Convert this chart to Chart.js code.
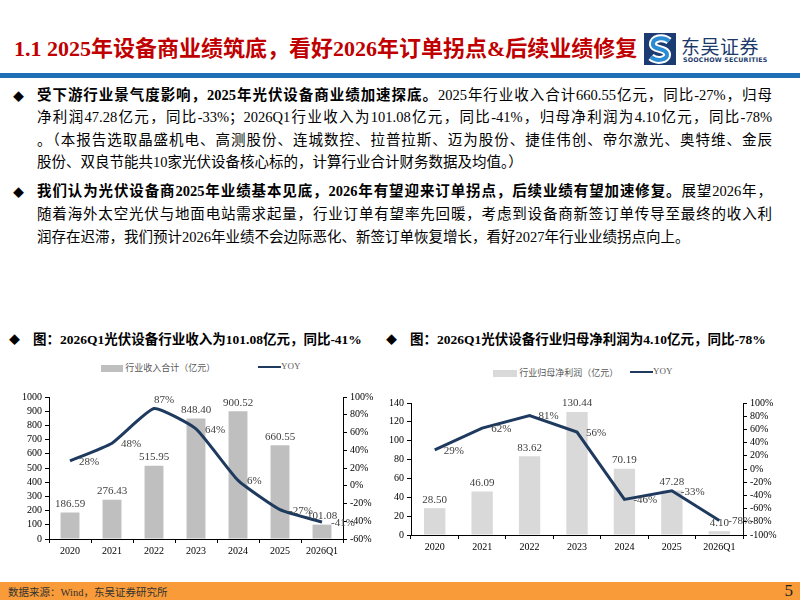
<!DOCTYPE html>
<html lang="zh">
<head>
  <meta charset="UTF-8">
  <title>光伏设备行业业绩</title>
  <script src="https://cdn.jsdelivr.net/npm/chart.js"></script>
  <style>
    html, body { margin: 0; padding: 0; }
    body {
      width: 800px; height: 600px; position: relative; overflow: hidden; background: #fff;
      font-family: "Liberation Serif", "Noto Sans CJK SC", serif; color: #000;
    }
    .abs { position: absolute; }
    #title { left: 14px; top: 30px; font-size: 22px; font-weight: bold; color: #c00000; white-space: nowrap; }
    #blueBar { left: 0; top: 73px; width: 800px; height: 5px; background: #1f6fb6; }
    #footer { left: 0; top: 582px; width: 800px; height: 18px; background: #f89b38; }
    #footer .src { position: absolute; left: 8px; top: 2px; font-size: 10.5px; color: #333; }
    #footer .pg { position: absolute; right: 7px; top: -1px; font-size: 17px; color: #222; }
    .bullet { font-size: 11px; }
    .line { position: absolute; left: 37px; width: 735px; font-size: 14.5px; line-height: 20px;
            text-align: justify; text-align-last: justify; }
    .line.last { text-align-last: left; }
    .ctitle { font-size: 13.5px; font-weight: bold; white-space: nowrap; }
    .legend { font-size: 9px; color: #595959; white-space: nowrap; }
    .swatch { display: inline-block; vertical-align: middle; }
    .box { position: absolute; }
  </style>
</head>
<body>
  <!-- 页眉 -->
  <div id="title" class="abs">1.1 2025年设备商业绩筑底，看好2026年订单拐点&amp;后续业绩修复</div>
  <svg class="abs" style="left:644px;top:33px" width="32" height="32" viewBox="0 0 32 32">
    <rect x="0" y="0" width="32" height="32" fill="#1d3b73"/>
    <path d="M25,8 C19,3 8,5 9,12 C10,17 22,15 23,21 C24,27 13,29 7,24" fill="none" stroke="#fff" stroke-width="8"/>
    <path d="M25,8 C19,3 8,5 9,12 C10,17 22,15 23,21 C24,27 13,29 7,24" fill="none" stroke="#2b8bd3" stroke-width="4"/>
  </svg>
  <div class="abs" style="left:681px;top:32px;font-family:'Noto Sans CJK SC';font-size:19px;letter-spacing:0.5px;color:#1b3a6b;">东吴证券</div>
  <div class="abs" style="left:683px;top:56px;font-family:'DejaVu Sans';font-size:6.3px;font-weight:bold;color:#1b3a6b;letter-spacing:0.2px;">SOOCHOW SECURITIES</div>
  <div id="blueBar" class="abs"></div>

  <!-- 正文 -->
  <div class="abs bullet" style="left:13px;top:88px;">◆</div>
  <div class="line" style="top:85px;"><b>受下游行业景气度影响，2025年光伏设备商业绩加速探底。</b>2025年行业收入合计660.55亿元，同比-27%，归母</div>
  <div class="line" style="top:107px;">净利润47.28亿元，同比-33%；2026Q1行业收入为101.08亿元，同比-41%，归母净利润为4.10亿元，同比-78%</div>
  <div class="line" style="top:130px;">。（本报告选取晶盛机电、高测股份、连城数控、拉普拉斯、迈为股份、捷佳伟创、帝尔激光、奥特维、金辰</div>
  <div class="line last" style="top:152px;">股份、双良节能共10家光伏设备核心标的，计算行业合计财务数据及均值。）</div>
  <div class="abs bullet" style="left:13px;top:184px;">◆</div>
  <div class="line" style="top:181px;"><b>我们认为光伏设备商2025年业绩基本见底，2026年有望迎来订单拐点，后续业绩有望加速修复。</b>展望2026年，</div>
  <div class="line" style="top:204px;">随着海外太空光伏与地面电站需求起量，行业订单有望率先回暖，考虑到设备商新签订单传导至最终的收入利</div>
  <div class="line last" style="top:227px;">润存在迟滞，我们预计2026年业绩不会边际恶化、新签订单恢复增长，看好2027年行业业绩拐点向上。</div>

  <!-- 图表标题 -->
  <div class="abs bullet" style="left:9px;top:331px;">◆</div>
  <div class="abs ctitle" style="left:33px;top:328px;">图：2026Q1光伏设备行业收入为101.08亿元，同比-41%</div>
  <div class="abs bullet" style="left:386px;top:331px;">◆</div>
  <div class="abs ctitle" style="left:410px;top:328px;">图：2026Q1光伏设备行业归母净利润为4.10亿元，同比-78%</div>

  <!-- 图例 -->
  <div class="abs legend" style="left:101px;top:361px;">
    <span class="swatch" style="width:22px;height:7px;background:#bfbfbf;"></span> 行业收入合计（亿元）
  </div>
  <div class="abs legend" style="left:258px;top:361px;">
    <span class="swatch" style="width:23px;height:2.5px;background:#1f3a5f;"></span>YOY
  </div>
  <div class="abs legend" style="left:493px;top:366px;">
    <span class="swatch" style="width:24px;height:7px;background:#d9d9d9;"></span> 行业归母净利润（亿元）
  </div>
  <div class="abs legend" style="left:630px;top:366px;">
    <span class="swatch" style="width:23px;height:2.5px;background:#1f3a5f;"></span>YOY
  </div>

  <div class="box" style="left:0px;top:385px;width:390px;height:174px;"><canvas id="revChart"></canvas></div>
  <div class="box" style="left:385px;top:390px;width:415px;height:165px;"><canvas id="profitChart"></canvas></div>

  <div id="footer" class="abs">
    <span class="src">数据来源：Wind，东吴证券研究所</span>
    <span class="pg">5</span>
  </div>

  <script>
    // 数据
    const years = ['2020', '2021', '2022', '2023', '2024', '2025', '2026Q1'];
    const revenue = [186.59, 276.43, 515.95, 848.40, 900.52, 660.55, 101.08];
    const revenueYoy = [28, 48, 87, 64, 6, -27, -41];
    const profit = [28.50, 46.09, 83.62, 130.44, 70.19, 47.28, 4.10];
    const profitYoy = [29, 62, 81, 56, -46, -33, -78];

    const tickFont = { family: 'Liberation Serif', size: 10 };
    const lineColor = '#1f3a5f';

    // 数据标签：柱子上方写数值，折线点右侧写百分比
    const valueLabels = {
      id: 'valueLabels',
      afterDatasetsDraw(chart, args, opts) {
        const ctx = chart.ctx;
        ctx.save();
        ctx.font = '11px "Liberation Serif"';
        ctx.fillStyle = '#404040';
        chart.data.datasets.forEach((ds, di) => {
          const meta = chart.getDatasetMeta(di);
          meta.data.forEach((el, i) => {
            const v = ds.data[i];
            if (ds.type === 'bar') {
              ctx.textAlign = 'center';
              ctx.textBaseline = 'bottom';
              ctx.fillText(v.toFixed(2), el.x, el.y - 3);
            } else if (i === opts.aboveIndex) {
              ctx.textAlign = 'left';
              ctx.textBaseline = 'bottom';
              ctx.fillText(v + '%', el.x, el.y - 3);
            } else {
              ctx.textAlign = 'left';
              ctx.textBaseline = 'middle';
              ctx.fillText(v + '%', el.x + 9, el.y + 1);
            }
          });
        });
        ctx.restore();
      }
    };

    function makeChart(id, bars, barColor, yoy, leftMax, leftStep, rightMin, tension, leftW, rightW, padTop, aboveIndex) {
      new Chart(document.getElementById(id), {
        data: {
          labels: years,
          datasets: [
            { type: 'line', data: yoy, yAxisID: 'y1', borderColor: lineColor, borderWidth: 3,
              pointRadius: 0, tension: tension, order: 0 },
            { type: 'bar', data: bars, yAxisID: 'y', backgroundColor: barColor,
              barPercentage: 0.45, categoryPercentage: 1, order: 1 }
          ]
        },
        options: {
          responsive: true, maintainAspectRatio: false, animation: false,
          layout: { padding: { top: padTop, left: 0, right: 0, bottom: 0 } },
          plugins: { legend: { display: false }, tooltip: { enabled: false }, valueLabels: { aboveIndex: aboveIndex } },
          scales: {
            x: {
              grid: { offset: true, drawOnChartArea: false, tickLength: 4, color: '#000' },
              border: { color: '#000' },
              ticks: { font: tickFont, color: '#000', padding: 2, maxRotation: 0 },
              afterFit(s) { s.height = 20; }
            },
            y: {
              position: 'left', min: 0, max: leftMax,
              grid: { drawOnChartArea: false, tickLength: 4, color: '#000' },
              border: { color: '#000' },
              ticks: { stepSize: leftStep, autoSkip: false, font: tickFont, color: '#000', padding: 3,
                       callback: v => String(v) },
              afterFit(s) { s.width = leftW; }
            },
            y1: {
              position: 'right', min: rightMin, max: 100,
              grid: { drawOnChartArea: false, tickLength: 4, color: '#000' },
              border: { color: '#000' },
              ticks: { stepSize: 20, autoSkip: false, font: tickFont, color: '#000', padding: 3,
                       callback: v => v + '%' },
              afterFit(s) { s.width = rightW; }
            }
          }
        },
        plugins: [valueLabels]
      });
    }

    makeChart('revChart', revenue, '#bfbfbf', revenueYoy, 1000, 100, -60, 0.15, 49, 47, 12, 2);
    makeChart('profitChart', profit, '#d9d9d9', profitYoy, 140, 20, -100, 0, 26, 57, 13, -1);
  </script>
</body>
</html>
